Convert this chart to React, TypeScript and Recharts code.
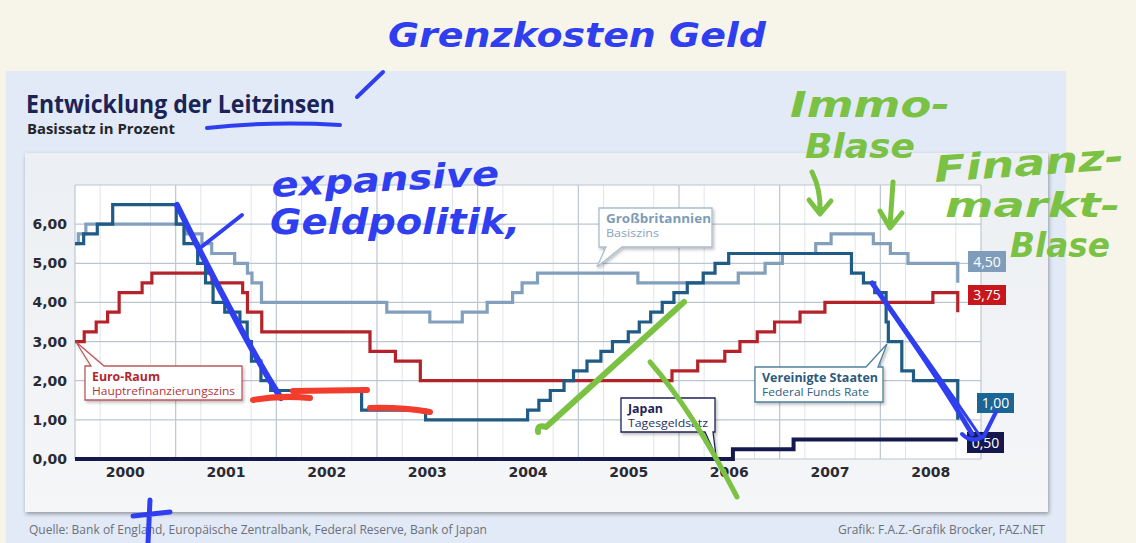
import { LineChart, Line, XAxis, YAxis, CartesianGrid } from "recharts";

// Leitzinsen als Stufen: Datum der Zinsänderung -> neuer Satz (letzter Eintrag = Ende der Grafik)
const ukDates = [
  "2000-01-01", "2000-01-13", "2000-02-10", "2001-02-08", "2001-04-05", "2001-05-10", "2001-08-02",
  "2001-09-18", "2001-10-04", "2001-11-08", "2003-02-06", "2003-07-10", "2003-11-06", "2004-02-05",
  "2004-05-06", "2004-06-10", "2004-08-05", "2005-08-04", "2006-08-03", "2006-11-09", "2007-01-11",
  "2007-05-10", "2007-07-05", "2007-12-06", "2008-02-07", "2008-04-10", "2008-10-08",
];
const ukRates = [
  5.5, 5.75, 6, 5.75, 5.5, 5.25, 5, 4.75, 4.5, 4, 3.75, 3.5, 3.75, 4, 4.25, 4.5, 4.75, 4.5, 4.75, 5,
  5.25, 5.5, 5.75, 5.5, 5.25, 5, 4.5,
];

const ecbDates = [
  "2000-01-01", "2000-02-04", "2000-03-17", "2000-04-28", "2000-06-09", "2000-09-01", "2000-10-06",
  "2001-05-11", "2001-08-31", "2001-09-18", "2001-11-09", "2002-12-06", "2003-03-07", "2003-06-06",
  "2005-12-06", "2006-03-08", "2006-06-15", "2006-08-09", "2006-10-11", "2006-12-13", "2007-03-14",
  "2007-06-13", "2008-07-09", "2008-10-08",
];
const ecbRates = [
  3, 3.25, 3.5, 3.75, 4.25, 4.5, 4.75, 4.5, 4.25, 3.75, 3.25, 2.75, 2.5, 2, 2.25, 2.5, 2.75, 3, 3.25,
  3.5, 3.75, 4, 4.25, 3.75,
];

const fedDates = [
  "2000-01-01", "2000-02-02", "2000-03-21", "2000-05-16", "2001-01-03", "2001-01-31", "2001-03-20",
  "2001-04-18", "2001-05-15", "2001-06-27", "2001-08-21", "2001-09-17", "2001-10-02", "2001-11-06",
  "2001-12-11", "2002-11-06", "2003-06-25", "2004-06-30", "2004-08-10", "2004-09-21", "2004-11-10",
  "2004-12-14", "2005-02-02", "2005-03-22", "2005-05-03", "2005-06-30", "2005-08-09", "2005-09-20",
  "2005-11-01", "2005-12-13", "2006-01-31", "2006-03-28", "2006-05-10", "2006-06-29", "2007-09-18",
  "2007-10-31", "2007-12-11", "2008-01-22", "2008-01-30", "2008-03-18", "2008-04-30", "2008-10-08",
];
const fedRates = [
  5.5, 5.75, 6, 6.5, 6, 5.5, 5, 4.5, 4, 3.75, 3.5, 3, 2.5, 2, 1.75, 1.25, 1, 1.25, 1.5, 1.75, 2, 2.25,
  2.5, 2.75, 3, 3.25, 3.5, 3.75, 4, 4.25, 4.5, 4.75, 5, 5.25, 4.75, 4.5, 4.25, 3.5, 3, 2.25, 2, 1,
];

const japanDates = ["2000-01-01", "2006-07-14", "2007-02-21", "2008-10-08"];
const japanRates = [0, 0.25, 0.5, 0.5];

const years = [2000, 2001, 2002, 2003, 2004, 2005, 2006, 2007, 2008, 2009];
const rateTicks = [0, 1, 2, 3, 4, 5, 6];
const gridRates = [0, 1, 2, 3, 4, 5, 6, 7];

function toYear(s: string) {
  const [y, m, d] = s.split("-").map(Number);
  return y + (m - 1) / 12 + (d - 1) / 365;
}

function steps(dates: string[], rates: number[]) {
  return dates.map((d, i) => ({ t: toYear(d), v: rates[i] }));
}

const quarters = years.slice(0, -1).flatMap((y) => [y + 0.25, y + 0.5, y + 0.75]);
const yearMids = years.slice(0, -1).map((y) => y + 0.5);

const comma = (v: number) => v.toFixed(2).replace(".", ",");

const SANS = '"Open Sans", "Noto Sans", sans-serif';
const HAND = '"DejaVu Sans", sans-serif';
const BLUE = "#2f3ff0";
const GREEN = "#7bc244";

function Callout(props: {
  x: number; y: number; w: number; h: number; side: "top" | "bottom";
  p1: number; p2: number; tx: number; ty: number;
  title: string; sub: string; tw: number; sw: number;
  color: string; subColor: string; border: string;
}) {
  const { x, y, w, h, side, p1, p2, tx, ty } = props;
  const d =
    side === "bottom"
      ? `M${x},${y} H${x + w} V${y + h} H${p2} L${tx},${ty} L${p1},${y + h} H${x} Z`
      : `M${x},${y} H${p1} L${tx},${ty} L${p2},${y} H${x + w} V${y + h} H${x} Z`;
  return (
    <g>
      <path d={d} fill="#fff" stroke={props.border} strokeWidth={1.3} filter="url(#sh)" />
      <text x={x + 7} y={y + 15} fill={props.color} fontFamily={SANS} fontWeight={700} fontSize={13}
        textLength={props.tw} lengthAdjust="spacingAndGlyphs">{props.title}</text>
      <text x={x + 7} y={y + 29} fill={props.subColor} fontFamily={SANS} fontSize={11}
        textLength={props.sw} lengthAdjust="spacingAndGlyphs">{props.sub}</text>
    </g>
  );
}

function ValueBox({ x, y, w, h, fill, text }: { x: number; y: number; w: number; h: number; fill: string; text: string }) {
  return (
    <g>
      <rect x={x} y={y} width={w} height={h} fill={fill} />
      <text x={x + w / 2} y={y + h / 2 + 5} textAnchor="middle" fill="#fff" fontFamily={SANS} fontSize={14}>
        {text}
      </text>
    </g>
  );
}

export default function App() {
  return (
    <div style={{ position: "absolute", left: 0, top: 0, width: 1136, height: 543, overflow: "hidden", background: "#f7f5ea" }}>
      <div style={{ position: "absolute", left: 6, top: 71, width: 1060, height: 480, background: "#e1eaf6" }} />
      <div
        style={{
          position: "absolute", left: 25, top: 153, width: 1023, height: 359,
          background: "linear-gradient(#eceff3, #f5f6f8)", boxShadow: "1px 2px 4px rgba(0,0,0,0.35)",
        }}
      />
      <div style={{ position: "absolute", left: 0, top: 0 }}>
        <LineChart width={1136} height={543} margin={{ top: 185, right: 155, bottom: 54, left: 15 }}>
          <CartesianGrid fill="#ffffff" horizontal={false} verticalValues={quarters} stroke="#e1e5eb" strokeWidth={1} />
          <CartesianGrid horizontalValues={gridRates} verticalValues={years} stroke="#bcc6d1" strokeWidth={1.2} />
          <XAxis
            dataKey="t"
            type="number"
            domain={[2000, 2009]}
            ticks={yearMids}
            tickFormatter={(v: number) => String(Math.floor(v))}
            axisLine={false}
            tickLine={false}
            height={30}
            allowDataOverflow
            tick={{ fill: "#2a2a33", fontSize: 14, fontWeight: 700, fontFamily: "DejaVu Sans" }}
          />
          <YAxis
            type="number"
            domain={[0, 7]}
            ticks={rateTicks}
            tickFormatter={comma}
            axisLine={false}
            tickLine={false}
            width={60}
            tick={{ fill: "#2a2a33", fontSize: 14, fontWeight: 700, fontFamily: "DejaVu Sans" }}
          />
          <Line data={steps(ukDates, ukRates)} dataKey="v" type="stepAfter" stroke="#829fbc" strokeWidth={3.2} dot={false} isAnimationActive={false} />
          <Line data={steps(ecbDates, ecbRates)} dataKey="v" type="stepAfter" stroke="#b5232a" strokeWidth={3.2} dot={false} isAnimationActive={false} />
          <Line data={steps(fedDates, fedRates)} dataKey="v" type="stepAfter" stroke="#1f5b84" strokeWidth={3.2} dot={false} isAnimationActive={false} />
          <Line data={steps(japanDates, japanRates)} dataKey="v" type="stepAfter" stroke="#15194e" strokeWidth={4} dot={false} isAnimationActive={false} />
        </LineChart>
      </div>

      <svg width={1136} height={543} style={{ position: "absolute", left: 0, top: 0, pointerEvents: "none" }}>
        <defs>
          <filter id="sh" x="-10%" y="-10%" width="130%" height="140%">
            <feDropShadow dx="1.5" dy="2" stdDeviation="1.5" floodColor="#000" floodOpacity="0.25" />
          </filter>
        </defs>

        <text x={26} y={113} fill="#1b2357" fontFamily={SANS} fontWeight={700} fontSize={25} textLength={309} lengthAdjust="spacingAndGlyphs">
          Entwicklung der Leitzinsen
        </text>
        <text x={27} y={134} fill="#23252b" fontFamily={SANS} fontWeight={700} fontSize={14} textLength={148} lengthAdjust="spacingAndGlyphs">
          Basissatz in Prozent
        </text>

        <Callout x={599} y={208} w={113} h={39} side="bottom" p1={606} p2={622} tx={597} ty={267}
          title="Großbritannien" sub="Basiszins" tw={105} sw={53} color="#7e9bb6" subColor="#88a3bc" border="#a9bdcf" />
        <Callout x={85} y={366} w={157} h={34} side="top" p1={91} p2={104} tx={76} ty={342}
          title="Euro-Raum" sub="Hauptrefinanzierungszins" tw={68} sw={143} color="#b3262c" subColor="#b3353a" border="#bb5a5e" />
        <Callout x={621} y={398} w={94} h={34} side="bottom" p1={705} p2={713} tx={716} ty={456}
          title="Japan" sub="Tagesgeldsatz" tw={35} sw={80} color="#1f2456" subColor="#2a2f5e" border="#1f2456" />
        <Callout x={755} y={367} w={128} h={35} side="top" p1={866} p2={878} tx={887} ty={344}
          title="Vereinigte Staaten" sub="Federal Funds Rate" tw={116} sw={107} color="#2c5a7c" subColor="#2f6085" border="#4f809e" />

        <ValueBox x={968} y={251} w={38} h={21} fill="#7f9dbb" text="4,50" />
        <ValueBox x={968} y={285} w={38} h={20} fill="#c8161d" text="3,75" />
        <ValueBox x={977} y={393} w={37} h={20} fill="#1b6594" text="1,00" />
        <ValueBox x={967} y={432} w={37} h={21} fill="#14184f" text="0,50" />

        <text x={29} y={534} fill="#6d7078" fontFamily={SANS} fontSize={12} textLength={458} lengthAdjust="spacingAndGlyphs">
          Quelle: Bank of England, Europäische Zentralbank, Federal Reserve, Bank of Japan
        </text>
        <text x={838} y={534} fill="#6d7078" fontFamily={SANS} fontSize={12} textLength={207} lengthAdjust="spacingAndGlyphs">
          Grafik: F.A.Z.-Grafik Brocker, FAZ.NET
        </text>

        {/* handschriftliche Notizen */}
        <g fontFamily={HAND} fontStyle="italic" fontWeight={700}>
          <text x={388} y={47} fontSize={34} fill={BLUE} textLength={378} lengthAdjust="spacingAndGlyphs">Grenzkosten Geld</text>
          <text x={272} y={197} fontSize={34} fill={BLUE} textLength={228} lengthAdjust="spacingAndGlyphs" transform="rotate(-3 272 197)">expansive</text>
          <text x={270} y={234} fontSize={36} fill={BLUE} textLength={250} lengthAdjust="spacingAndGlyphs">Geldpolitik,</text>
          <text x={790} y={117} fontSize={36} fill={GREEN} textLength={160} lengthAdjust="spacingAndGlyphs">Immo-</text>
          <text x={805} y={158} fontSize={34} fill={GREEN} textLength={110} lengthAdjust="spacingAndGlyphs">Blase</text>
          <text x={935} y={182} fontSize={36} fill={GREEN} textLength={190} lengthAdjust="spacingAndGlyphs" transform="rotate(-4 935 182)">Finanz-</text>
          <text x={945} y={217} fontSize={34} fill={GREEN} textLength={175} lengthAdjust="spacingAndGlyphs">markt-</text>
          <text x={1010} y={257} fontSize={34} fill={GREEN} textLength={100} lengthAdjust="spacingAndGlyphs">Blase</text>
        </g>
        <g fill="none" strokeLinecap="round" strokeLinejoin="round">
          <path d="M207,128 Q270,121 340,125" stroke={BLUE} strokeWidth={4} />
          <path d="M357,97 L383,72" stroke={BLUE} strokeWidth={4} />
          <path d="M177,205 Q205,262 235,318 T281,398" stroke={BLUE} strokeWidth={6} />
          <path d="M200,248 L242,215" stroke={BLUE} strokeWidth={4} />
          <path d="M872,283 C905,330 940,380 972,434" stroke={BLUE} strokeWidth={5} />
          <path d="M878,292 C915,342 950,392 980,436" stroke={BLUE} strokeWidth={3} />
          <path d="M962,434 Q972,444 984,436 L996,412" stroke={BLUE} strokeWidth={4} />
          <path d="M150,500 L148,543 M133,516 L170,512" stroke={BLUE} strokeWidth={5} />
          <path d="M253,400 Q280,395 310,398 M293,391 L367,390 M370,408 Q400,407 430,412" stroke="#f23c2c" strokeWidth={6} />
          <path d="M538,432 Q537,424 546,427 L684,302" stroke={GREEN} strokeWidth={6} />
          <path d="M650,362 Q692,410 737,497" stroke={GREEN} strokeWidth={5} />
          <path d="M812,172 Q821,190 820,212 M809,200 L820,214 L831,201" stroke={GREEN} strokeWidth={5} />
          <path d="M893,182 L890,226 M880,211 L890,228 L902,213" stroke={GREEN} strokeWidth={5} />
        </g>
      </svg>
    </div>
  );
}
